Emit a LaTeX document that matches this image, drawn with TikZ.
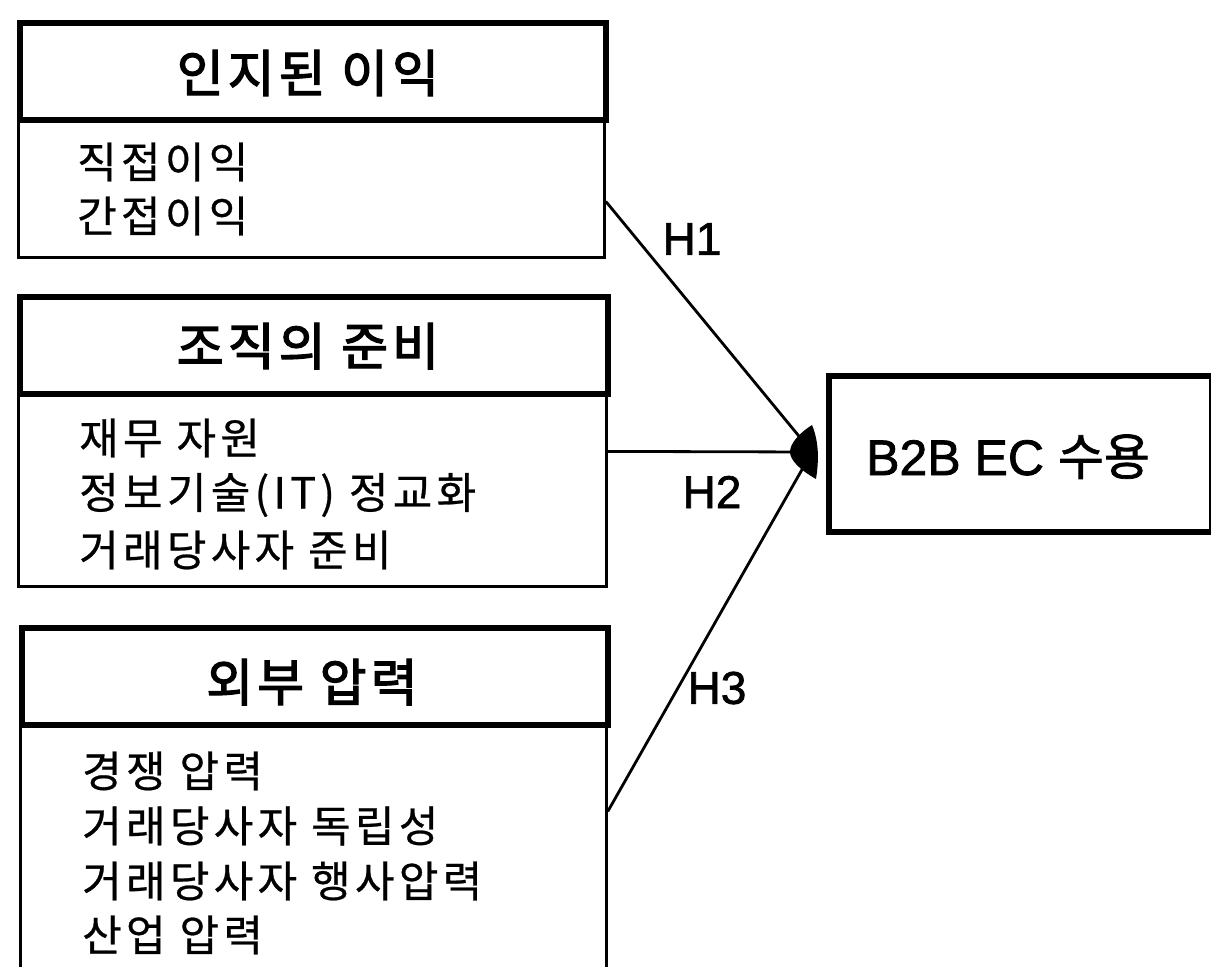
\documentclass[tikz,border=0pt]{standalone}
\usepackage{fontspec}
\setmainfont{Liberation Sans}
\newfontfamily\kr[LetterSpace=10,FakeBold=0.6]{Noto Sans CJK KR}
\newfontfamily\krtitle[LetterSpace=8,FakeBold=2.5]{Noto Sans CJK KR}
\newfontfamily\krplain[FakeBold=1.5]{Noto Sans CJK KR}
\newfontfamily\lab[FakeBold=1.5]{Liberation Sans}
\begin{document}
\begin{tikzpicture}[x=1pt,y=-1pt,
  titlebox/.style={draw, line width=6pt, inner sep=0pt, anchor=north west},
  bodybox/.style={draw, line width=2.8pt, inner sep=0pt, anchor=north west},
  titletext/.style={font=\krtitle\fontsize{51}{60}\selectfont, inner sep=0pt},
  itemtext/.style={font=\kr\fontsize{43}{52}\selectfont, inner sep=0pt, anchor=west},
  hlabel/.style={font=\lab\fontsize{46}{55}\selectfont, inner sep=0pt},
  link/.style={line width=2.8pt}]
\useasboundingbox (0,0) rectangle (1211,967);
\clip (0,0) rectangle (1211,967);

% box 1
\node[bodybox, minimum width=586pt, minimum height=139pt] (c1) at (17,117) {};
\node[titlebox, minimum width=586pt, minimum height=97pt] (t1) at (17,20) {};
\node[titletext] (t1txt) at (308,73) {인지된 이익};
\node[itemtext] (i11) at (77,162) {직접이익};
\node[itemtext] (i12) at (77,216) {간접이익};

% box 2
\node[bodybox, minimum width=588pt, minimum height=194pt] (c2) at (17,391) {};
\node[titlebox, minimum width=588pt, minimum height=97pt] (t2) at (17,294) {};
\node[titletext] (t2txt) at (308,346) {조직의 준비};
\node[itemtext] (i21) at (79,438) {재무 자원};
\node[itemtext] (i22) at (79,495) {정보기술(IT) 정교화};
\node[itemtext] (i23) at (79,550) {거래당사자 준비};

% box 3
\node[bodybox, minimum width=586pt, minimum height=320pt] (c3) at (19,722) {};
\node[titlebox, minimum width=586pt, minimum height=97pt] (t3) at (19,625) {};
\node[titletext] (t3txt) at (312,682) {외부 압력};
\node[itemtext] (i31) at (82,771) {경쟁 압력};
\node[itemtext] (i32) at (82,826) {거래당사자 독립성};
\node[itemtext] (i33) at (82,881) {거래당사자 행사압력};
\node[itemtext] (i34) at (82,935) {산업 압력};

% outcome box
\node[titlebox, minimum width=383pt, minimum height=156pt] (b2b) at (826,373) {};
\node[font=\lab\fontsize{50}{60}\selectfont, inner sep=0pt, anchor=base west] (b2btxt) at (866,475) {B2B EC {\krplain 수용}};

% connectors
\coordinate (tip) at (812,452);
\draw[link] ([yshift=-13.5pt]c1.east) -- (tip);
\draw[link] ([yshift=38pt]c2.east) -- (tip);
\draw[link] ([yshift=72pt]c3.east) -- (tip);
\fill[shift={(tip)}] (0,-27) .. controls (-14,-18) and (-22,-8) .. (-22,0)
  .. controls (-22,8) and (-12,18) .. (4,27)
  .. controls (7,8) and (7,-10) .. (0,-27) -- cycle;

% labels
\node[hlabel] (h1) at (692,239) {H1};
\node[hlabel] (h2) at (712,492) {H2};
\node[hlabel] (h3) at (717,688) {H3};
\end{tikzpicture}
\end{document}
